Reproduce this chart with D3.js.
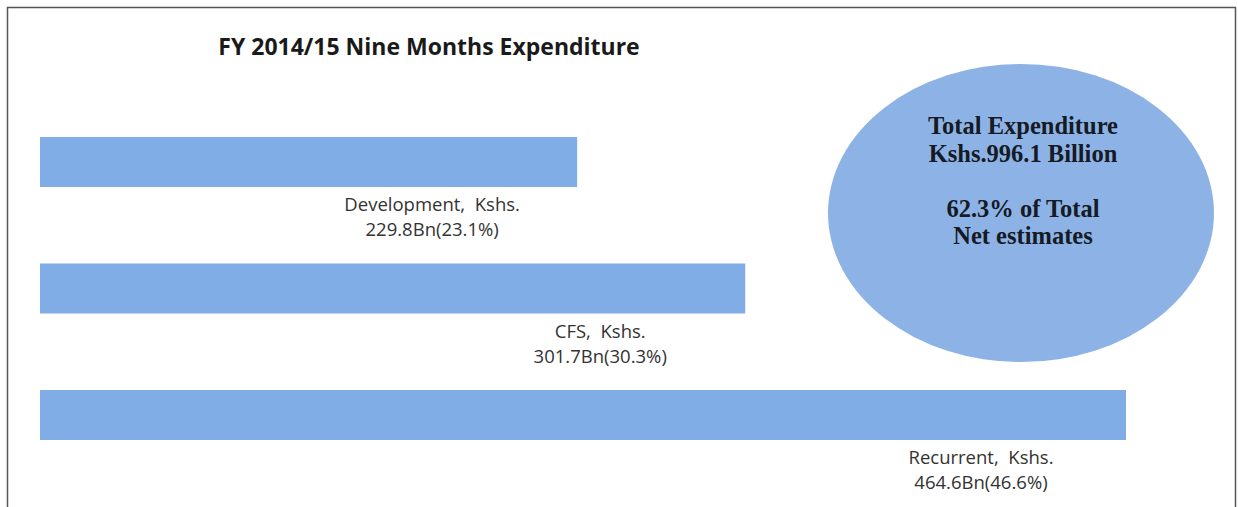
<!DOCTYPE html>
<html>
<head>
<meta charset="utf-8">
<script src="https://cdn.jsdelivr.net/npm/d3@7"></script>
<style>
  body { margin: 0; background: #fff; }
  #wrapper { width: 1238px; height: 507px; overflow: hidden; }
</style>
</head>
<body>
<div id="wrapper"></div>
<script>
// data
const categories = ["Development", "CFS", "Recurrent"]
const amounts = [229.8, 301.7, 464.6]          // Kshs. Bn
const shares = ["23.1%", "30.3%", "46.6%"]
const title = "FY 2014/15 Nine Months Expenditure"
const totalLines = ["Total Expenditure", "Kshs.996.1 Billion", "", "62.3% of Total", "Net estimates"]

function build_chart() {
    var dimension = {
        width: 1238,
        height: 507,
        margin: { left: 40, right: 112 }
    }

    const wrapper = d3.select("#wrapper")
        .append("svg")
        .attr("width", dimension.width)
        .attr("height", dimension.height)

    // frame
    wrapper.append("path")
        .attr("d", "M7.5,507 V7.5 H1235.5 V507")
        .attr("fill", "none")
        .attr("stroke", "#555")
        .attr("stroke-width", 1.5)

    wrapper.append("text")
        .attr("x", 429)
        .attr("y", 55)
        .attr("text-anchor", "middle")
        .style("font-family", "'Open Sans', sans-serif")
        .style("font-weight", "bold")
        .style("font-size", "23px")
        .style("fill", "#1a1a1a")
        .text(title)

    const x = d3.scaleLinear()
        .domain([0, d3.max(amounts)])
        .range([dimension.margin.left, dimension.width - dimension.margin.right])

    const y = d3.scalePoint()
        .domain(categories)
        .range([137, 390])

    var data = categories.map((c, i) => ({ cat: c, val: amounts[i], share: shares[i] }))

    wrapper.append("g")
        .selectAll("rect")
        .data(data)
        .enter()
        .append("rect")
        .attr("x", x(0))
        .attr("y", d => y(d.cat))
        .attr("width", d => x(d.val) - x(0))
        .attr("height", 50)
        .style("fill", "#80ade6")

    const labels = wrapper.append("g")
        .selectAll("text")
        .data(data)
        .enter()
        .append("text")
        .attr("text-anchor", "middle")
        .style("font-family", "'Open Sans', sans-serif")
        .style("font-size", "18.5px")
        .style("fill", "#333")

    labels.append("tspan")
        .attr("x", d => x(d.val) - 145)
        .attr("y", d => y(d.cat) + 74)
        .attr("xml:space", "preserve")
        .text(d => d.cat + ",  Kshs.")
    labels.append("tspan")
        .attr("x", d => x(d.val) - 145)
        .attr("y", d => y(d.cat) + 99)
        .text(d => d.val.toFixed(1) + "Bn(" + d.share + ")")

    // total bubble
    wrapper.append("ellipse")
        .attr("cx", 1021)
        .attr("cy", 213)
        .attr("rx", 193)
        .attr("ry", 149)
        .style("fill", "#8db3e6")

    wrapper.append("g")
        .selectAll("text")
        .data(totalLines)
        .enter()
        .append("text")
        .attr("x", 1023)
        .attr("y", (d, i) => 134 + i * 27.5)
        .attr("text-anchor", "middle")
        .style("font-family", "'Liberation Serif', serif")
        .style("font-weight", "bold")
        .style("font-size", "24.5px")
        .style("fill", "#151a24")
        .text(d => d)
}

build_chart();
</script>
</body>
</html>
